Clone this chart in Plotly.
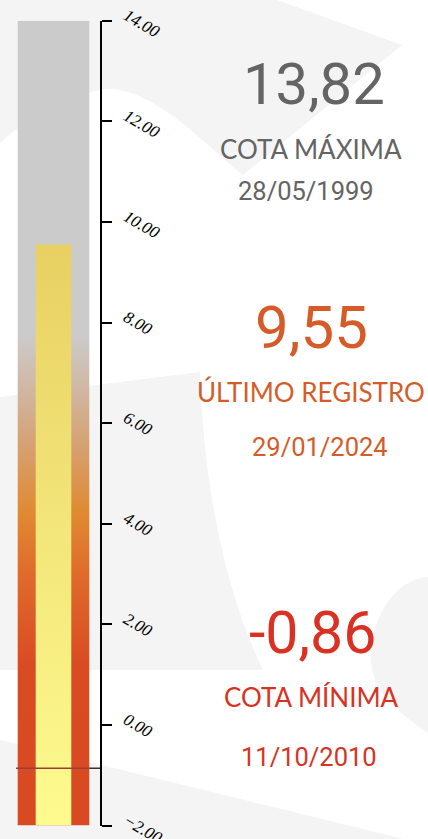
import plotly.graph_objects as go

# Datos de la escala
escala = [-2, 14]            # rango de la regla (m)
cota_maxima = 13.82
fecha_maxima = "28/05/1999"
ultimo_registro = 9.55
fecha_ultimo = "29/01/2024"
cota_minima = -0.86
fecha_minima = "11/10/2010"

GRIS = "#646464"
NARANJA = "#d55c28"
ROJO = "#d93222"
FONDO = "#f4f4f4"

W, H = 428, 839

fig = go.Figure()

# columna exterior (toda la escala) con degradado
fig.add_trace(go.Scatter(
    x=[-35.8, 35.8, 35.8, -35.8, -35.8],
    y=[escala[0], escala[0], escala[1], escala[1], escala[0]],
    mode="lines", line=dict(width=0), fill="toself",
    fillgradient=dict(
        type="vertical", start=escala[0], stop=escala[1],
        colorscale=[[0, "#d84a22"], [0.2, "#d94c23"], [0.31, "#df6a2a"],
                    [0.39, "#e08a32"], [0.47, "#d6a070"], [0.545, "#d0b8a4"],
                    [0.61, "#cbcbcb"], [1, "#cbcbcb"]]),
    hoverinfo="skip", showlegend=False,
))

# columna interior: último registro
fig.add_trace(go.Scatter(
    x=[-17.8, 17.8, 17.8, -17.8, -17.8],
    y=[escala[0], escala[0], ultimo_registro, ultimo_registro, escala[0]],
    mode="lines", line=dict(width=0), fill="toself",
    fillgradient=dict(
        type="vertical", start=escala[0], stop=ultimo_registro,
        colorscale=[[0, "#fefb8e"], [0.5, "#f3e67a"], [1, "#e8d062"]]),
    hoverinfo="skip", showlegend=False,
))

# línea de cota mínima
fig.add_trace(go.Scatter(
    x=[-37.5, 35.8], y=[cota_minima, cota_minima], mode="lines",
    line=dict(color="#9e3c36", width=1.5), hoverinfo="skip", showlegend=False,
))
fig.add_trace(go.Scatter(
    x=[35.8, 46.5], y=[cota_minima, cota_minima], mode="lines",
    line=dict(color="#333333", width=1.5), hoverinfo="skip", showlegend=False,
))

# fondo decorativo
formas = [
    "M 0 0 L 277 0 L 402 45 L 243 175 C 215 155 150 80 100 90 C 60 98 25 120 0 143 Z",
    "M 0 397 L 200 372 C 203 470 220 580 263 670 L 0 670 Z",
    "M 428 577 C 405 578 380 600 372 640 C 366 680 380 700 428 733 Z",
    "M 0 740 L 428 845 L 0 845 Z",
]


def a_papel(path):
    out = []
    toks = path.split()
    i = 0
    while i < len(toks):
        t = toks[i]
        if t.isalpha():
            out.append(t)
            i += 1
        else:
            px, py = float(toks[i]), float(toks[i + 1])
            out.append(f"{px / W:.4f},{1 - py / H:.4f}")
            i += 2
    return " ".join(out)


for p in formas:
    fig.add_shape(type="path", path=a_papel(p), xref="paper", yref="paper",
                  fillcolor=FONDO, line=dict(width=0), layer="below")

# textos: (texto, centro x px, centro y px, tamaño, color, fuente)
textos = [
    (f"{cota_maxima:.2f}".replace(".", ","), 314, 84, 58, GRIS, "Roboto"),
    ("COTA MÁXIMA", 311, 149, 26, GRIS, "Lato"),
    (fecha_maxima, 306, 191, 25.5, GRIS, "Roboto"),
    (f"{ultimo_registro:.2f}".replace(".", ","), 311, 328, 60, NARANJA, "Roboto"),
    ("ÚLTIMO REGISTRO", 311, 392, 26, NARANJA, "Lato"),
    (fecha_ultimo, 320, 447, 25.5, NARANJA, "Roboto"),
    (f"{cota_minima:.2f}".replace(".", ","), 312, 632, 59, ROJO, "Roboto"),
    ("COTA MÍNIMA", 311, 697, 26, ROJO, "Lato"),
    (fecha_minima, 309, 757, 25.5, ROJO, "Roboto"),
]
for txt, xpx, ypx, size, color, fam in textos:
    fig.add_annotation(text=txt, x=xpx / W, y=1 - ypx / H, xref="paper", yref="paper",
                       xanchor="center", yanchor="middle", showarrow=False,
                       font=dict(family=fam, size=size, color=color))

fig.update_layout(
    width=W, height=H,
    margin=dict(l=0, r=0, t=0, b=0, autoexpand=False),
    paper_bgcolor="white", plot_bgcolor="rgba(0,0,0,0)",
    xaxis=dict(domain=[16 / W, 100 / W], range=[-37.5, 46.5], visible=False,
               fixedrange=True, automargin=False),
    yaxis=dict(domain=[13.4 / H, 818.3 / H], range=escala, side="right",
               showline=True, linecolor="black", linewidth=2, mirror=False,
               ticks="outside", ticklen=10, tickwidth=2, tickcolor="black",
               dtick=2, tickformat=".2f", tickangle=30, showgrid=False,
               zeroline=False, fixedrange=True, ticklabelstandoff=11,
               ticklabelshift=-7, automargin=False, ticklabeloverflow="allow",
               tickfont=dict(family="Liberation Serif", size=17, color="black",
                             style="italic")),
    separators=".,",
)

fig.write_html("out.html", config={"displayModeBar": False},
               post_script="document.body.style.margin='0';"
                           "document.body.style.overflow='hidden';")
